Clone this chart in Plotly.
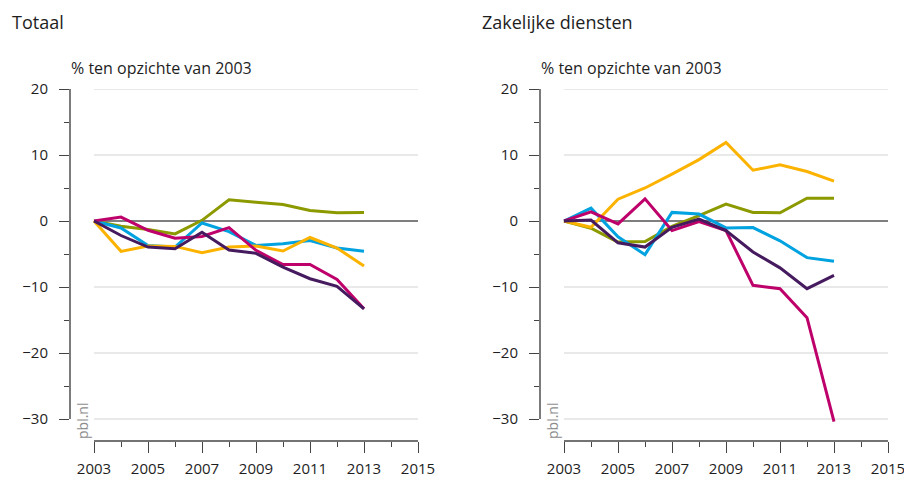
import plotly.graph_objects as go

W, H = 904, 479

years = list(range(2003, 2014))

# Totaal (% ten opzichte van 2003)
tot_groen = [0, -0.8, -1.3, -1.95, 0.1, 3.2, 2.85, 2.5, 1.6, 1.25, 1.3]
tot_blauw = [0, -1.05, -3.7, -3.95, -0.3, -1.6, -3.7, -3.45, -2.95, -4.1, -4.6]
tot_oranje = [0, -4.6, -3.8, -3.85, -4.8, -3.95, -3.8, -4.55, -2.5, -4.1, -6.8]
tot_magenta = [0, 0.6, -1.4, -2.6, -2.35, -1.0, -4.45, -6.6, -6.6, -8.85, -13.3]
tot_paars = [0, -2.2, -3.95, -4.2, -1.7, -4.4, -4.9, -7.0, -8.75, -9.9, -13.3]

# Zakelijke diensten (% ten opzichte van 2003)
zak_oranje = [0, -0.95, 3.3, 5.0, 7.1, 9.3, 11.9, 7.7, 8.5, 7.5, 6.05]
zak_groen = [0, -1.1, -3.2, -3.1, -0.8, 0.8, 2.55, 1.3, 1.25, 3.45, 3.45]
zak_blauw = [0, 1.95, -2.4, -5.1, 1.3, 1.05, -1.05, -1.0, -3.0, -5.55, -6.1]
zak_magenta = [0, 1.4, -0.45, 3.35, -1.45, -0.1, -1.45, -9.75, -10.25, -14.65, -30.4]
zak_paars = [0, 0.15, -3.3, -3.95, -0.95, 0.3, -1.45, -4.7, -7.1, -10.25, -8.25]

panel_titles = ["Totaal", "Zakelijke diensten"]
unit_label = "% ten opzichte van 2003"
y_ticks = [-30, -20, -10, 0, 10, 20]
x_ticks = list(range(2003, 2016, 2))
grid_vals = [-30, -20, -10, 10, 20]

colors = {
    "groen": "#8c9a00",
    "blauw": "#00a2e0",
    "oranje": "#fbb300",
    "magenta": "#be006b",
    "paars": "#451a5e",
}

panels = [
    [("groen", tot_groen), ("blauw", tot_blauw), ("oranje", tot_oranje),
     ("magenta", tot_magenta), ("paars", tot_paars)],
    [("groen", zak_groen), ("blauw", zak_blauw), ("oranje", zak_oranje),
     ("magenta", zak_magenta), ("paars", zak_paars)],
]

# pixel geometry of the two plot areas
left_px = [70, 540]
right_px = [418, 888]
top_px, bottom_px = 89, 441
px_per_year = 27.0
px_per_unit = (419 - 89) / 50.0

y_lo = -30 - (bottom_px - 419) / px_per_unit
y_range = [y_lo, 20]

fig = go.Figure()
shapes = []
annotations = []
font = "Open Sans"
axis_col = "#444444"
text_col = "#1e1e1e"

for i, series in enumerate(panels):
    xa = "x" if i == 0 else "x2"
    ya = "y" if i == 0 else "y2"
    xname = "xaxis" if i == 0 else "xaxis2"
    yname = "yaxis" if i == 0 else "yaxis2"

    for key, vals in series:
        fig.add_trace(go.Scatter(
            x=years, y=vals, mode="lines", xaxis=xa, yaxis=ya,
            line=dict(color=colors[key], width=3), showlegend=False,
            hoverinfo="skip",
        ))

    x_lo = 2015 - (right_px[i] - left_px[i]) / px_per_year
    fig.update_layout(**{
        xname: dict(
            domain=[left_px[i] / W, right_px[i] / W],
            range=[x_lo, 2015], anchor=ya, automargin=False,
            showgrid=False, zeroline=False, showline=False,
            tickmode="array", tickvals=x_ticks,
            ticks="outside", ticklen=11, tickwidth=1.3, tickcolor=axis_col,
            minor=dict(tickmode="linear", tick0=2003, dtick=1, ticks="outside",
                       ticklen=5, tickwidth=1.3, tickcolor=axis_col),
            tickfont=dict(family=font, size=15, color=text_col),
            ticklabelstandoff=3, ticklabeloverflow="allow",
        ),
        yname: dict(
            domain=[1 - bottom_px / H, 1 - top_px / H],
            range=y_range, anchor=xa, automargin=False,
            showgrid=False, zeroline=False, showline=False,
            tickmode="array", tickvals=y_ticks,
            ticks="outside", ticklen=10, tickwidth=1.3, tickcolor=axis_col,
            minor=dict(tickmode="linear", tick0=0, dtick=5, ticks="outside",
                       ticklen=5, tickwidth=1.3, tickcolor=axis_col),
            tickfont=dict(family=font, size=15, color=text_col),
            ticklabelstandoff=8, ticklabeloverflow="allow",
        ),
    })

    # light grid lines spanning the year range
    for g in grid_vals:
        shapes.append(dict(type="line", xref=xa, yref=ya, x0=2003, x1=2015,
                           y0=g, y1=g, layer="below",
                           line=dict(color="#e2e2e2", width=1.5)))
    # zero reference line
    shapes.append(dict(type="line", xref=xa, yref=ya, x0=2003, x1=2015,
                       y0=0, y1=0, layer="below",
                       line=dict(color="#555555", width=1.6)))
    # vertical axis line from -30 to 20
    shapes.append(dict(type="line", xref=xa + " domain", yref=ya, x0=0, x1=0,
                       y0=-30, y1=20, line=dict(color=axis_col, width=1.4)))
    # horizontal axis line from 2003 to 2015
    shapes.append(dict(type="line", xref=xa, yref=ya + " domain", x0=2003,
                       x1=2015, y0=0, y1=0,
                       line=dict(color=axis_col, width=1.4)))

    off = 0 if i == 0 else 470
    annotations.append(dict(
        text=panel_titles[i], xref="paper", yref="paper",
        x=(10 + off) / W, y=1 - 22 / H, xanchor="left", yanchor="middle",
        showarrow=False, font=dict(family=font, size=18, color=text_col),
    ))
    annotations.append(dict(
        text=unit_label, xref="paper", yref="paper",
        x=(69 + off) / W, y=1 - 68 / H, xanchor="left", yanchor="middle",
        showarrow=False, font=dict(family=font, size=16, color=text_col),
    ))
    annotations.append(dict(
        text="pbl.nl", xref="paper", yref="paper",
        x=(82 + off) / W, y=1 - 421 / H, xanchor="center", yanchor="middle",
        textangle=-90, showarrow=False,
        font=dict(family=font, size=14, color="#8c8c8c"),
    ))

fig.update_layout(
    width=W, height=H,
    margin=dict(l=0, r=0, t=0, b=0, autoexpand=False),
    paper_bgcolor="white", plot_bgcolor="white",
    shapes=shapes, annotations=annotations,
    showlegend=False,
)

fig.write_html("out.html", config={"displayModeBar": False})
